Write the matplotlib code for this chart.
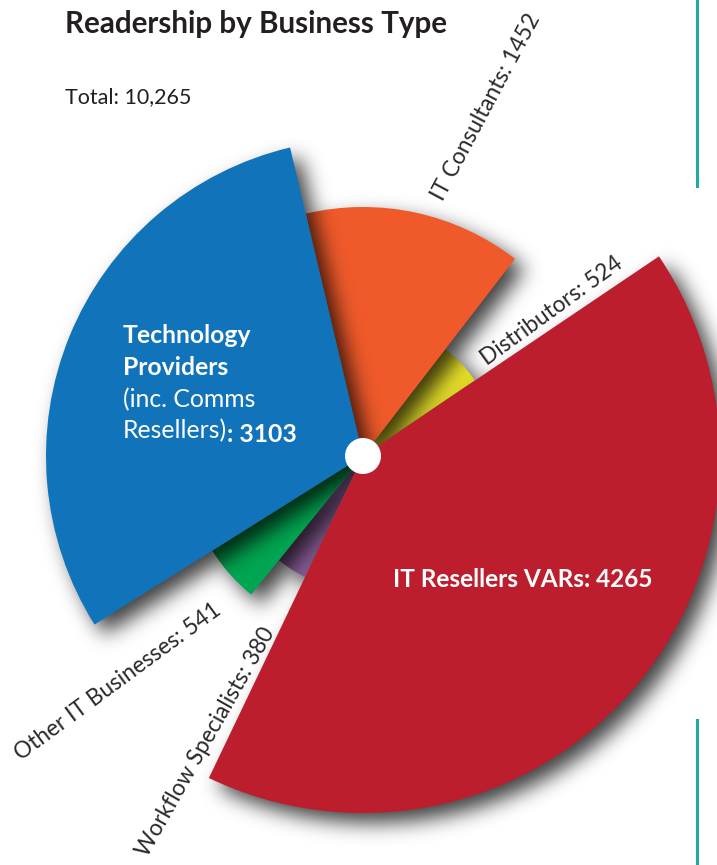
import numpy as np
import matplotlib
matplotlib.use('Agg')
import matplotlib.pyplot as plt
from matplotlib.patches import Wedge, Circle

plt.rcParams['font.family'] = ['Lato', 'DejaVu Sans']

# Data (counter-clockwise, starting just above the red slice)
categories = ['Distributors', 'IT Consultants', 'Technology Providers',
              'Other IT Businesses', 'Workflow Specialists', 'IT Resellers VARs']
values = [524, 1452, 3103, 541, 380, 4265]
total = 10265

# Styling
radii = [135, 249, 317, 178, 134, 357]
colors = ['#e6df2a', '#f05a2b', '#1173ba', '#00a551', '#8a5f99', '#bc1e2d']
draw_order = [0, 1, 4, 3, 2, 5]
start_angle = 34
W, H = 717, 865
cx, cy = 363, H - 456


def gauss_blur(a, sigma):
    r = int(3 * sigma)
    x = np.arange(-r, r + 1)
    k = np.exp(-x ** 2 / (2.0 * sigma ** 2))
    k /= k.sum()
    a = np.apply_along_axis(lambda m: np.convolve(m, k, mode='same'), 0, a)
    a = np.apply_along_axis(lambda m: np.convolve(m, k, mode='same'), 1, a)
    return a


class DropShadow:
    def __init__(self, sigma=10, dx=10, dy=10, alpha=0.75):
        self.sigma, self.dx, self.dy, self.alpha = sigma, dx, dy, alpha

    def __call__(self, im, dpi):
        pad = int(3 * self.sigma + max(abs(self.dx), abs(self.dy)) + 2)
        src = np.pad(im, [(pad, pad), (pad, pad), (0, 0)], 'constant')
        a = gauss_blur(src[:, :, 3] * self.alpha, self.sigma)
        a = np.roll(a, self.dx, axis=1)
        a = np.roll(a, self.dy, axis=0)
        out = np.zeros_like(src)
        out[:, :, 3] = np.clip(a, 0, 1)
        return out, -pad, -pad


fig = plt.figure(figsize=(W / 100, H / 100), dpi=100)
ax = fig.add_axes([0, 0, 1, 1])
ax.set_xlim(0, W)
ax.set_ylim(0, H)
ax.axis('off')

# slice angles from the values
widths = np.array(values) / total * 360
theta1 = start_angle + np.concatenate([[0], np.cumsum(widths)[:-1]])
theta2 = theta1 + widths

z = 2
for i in draw_order:
    sh = Wedge((cx, cy), radii[i], theta1[i], theta2[i], facecolor='black',
               edgecolor='none', zorder=z)
    sh.set_agg_filter(DropShadow())
    ax.add_patch(sh)
    ax.add_patch(Wedge((cx, cy), radii[i], theta1[i], theta2[i],
                       facecolor=colors[i], edgecolor='none', zorder=z + 1))
    z += 2

ax.add_patch(Circle((cx, cy), 18, facecolor='white', edgecolor='none', zorder=z))

# teal rules at the right
ax.plot([696.5, 696.5], [H, H - 186], color='#1fa9a0', lw=2.2, zorder=1)
ax.plot([696.5, 696.5], [H - 720, 0], color='#1fa9a0', lw=2.2, zorder=1)

# titles
ax.text(65, H - 33, 'Readership by Business Type', fontsize=21.3, fontweight='bold',
        color='#231f20', va='baseline', ha='left')
ax.text(65, H - 103, 'Total: 10,265', fontsize=15.5, color='#231f20',
        va='baseline', ha='left')

# label inside blue slice
tk = dict(fontsize=17.8, color='white', va='baseline', ha='left', zorder=30)
ax.text(123, H - 343, 'Technology', fontweight='bold', **tk)
ax.text(123, H - 375, 'Providers', fontweight='bold', **tk)
ax.text(123, H - 407, '(inc. Comms', **tk)
t = ax.text(123, H - 438, 'Resellers)', **tk)
ax.annotate(': %d' % values[2], xy=(1, 0), xycoords=t, fontsize=17.8, color='white',
            fontweight='bold', va='baseline', ha='left', zorder=30)

# label inside red slice
ax.text(523, H - 587, '%s: %d' % (categories[5], values[5]), fontsize=17.6,
        fontweight='bold', color='white', ha='center', va='baseline', zorder=30)

# rotated outside labels
label_pos = {1: (486, 107, 62), 0: (552, 311, 36), 3: (118, 682, 36.3), 4: (206, 742, 60.5)}
for i, (x, y, rot) in label_pos.items():
    ax.text(x, H - y, '%s: %d' % (categories[i], values[i]), fontsize=16.3,
            color='#2b2829', rotation=rot,
            rotation_mode='anchor', ha='center', va='center', zorder=30)

fig.savefig('out.png', dpi=100)
